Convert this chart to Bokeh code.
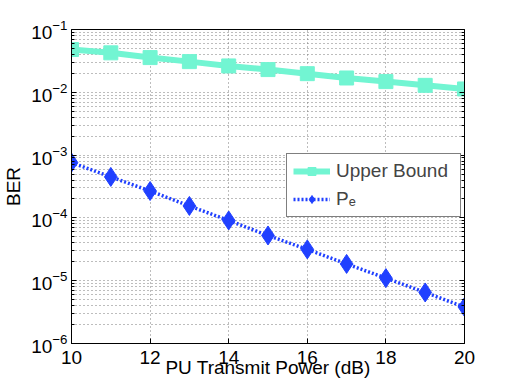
from bokeh.plotting import figure
from bokeh.models import (LogAxis, Legend, LegendItem, FixedTicker, Range1d)
from bokeh.embed import file_html
from bokeh.resources import INLINE

# ---- data ----
power_db = [10, 11, 12, 13, 14, 15, 16, 17, 18, 19, 20]
upper_bound = [0.048, 0.0425, 0.0357, 0.0308, 0.0263, 0.0230, 0.0198,
               0.0169, 0.0148, 0.0129, 0.0113]
pe = [7.6e-4, 4.5e-4, 2.68e-4, 1.55e-4, 9.1e-5, 5.25e-5, 3.15e-5,
      1.85e-5, 1.1e-5, 6.5e-6, 3.8e-6]
x_ticks = [10, 12, 14, 16, 18, 20]
y_ticks = [1e-6, 1e-5, 1e-4, 1e-3, 1e-2, 1e-1]
series_labels = ["Upper Bound", "P\u2091"]
x_label = "PU Transmit Power (dB)"
y_label = "BER"

FONT = "Liberation Sans"
minor_y = [m * d for d in y_ticks[:-1] for m in range(2, 10)]

p = figure(width=512, height=385, y_axis_type="log",
           x_range=Range1d(10, 20), y_range=Range1d(1e-6, 1e-1),
           output_backend="svg", toolbar_location=None,
           min_border_left=68, min_border_right=48,
           min_border_top=29, min_border_bottom=42)

p.border_fill_color = "white"
p.outline_line_color = "black"
p.outline_line_width = 1
p.background_fill_color = "white"

# grid
p.xgrid.ticker = FixedTicker(ticks=x_ticks)
p.ygrid.ticker = FixedTicker(ticks=y_ticks, minor_ticks=minor_y)
for g in (p.xgrid, p.ygrid):
    g.grid_line_color = "#7a7a7a"
    g.grid_line_dash = "1 3"
    g.grid_line_width = 1
p.ygrid.minor_grid_line_color = "#7a7a7a"
p.ygrid.minor_grid_line_dash = "1 3"

# axes
xa = p.xaxis[0]
xa.ticker = FixedTicker(ticks=x_ticks, minor_ticks=[])
ya = p.yaxis[0]
ya.ticker = FixedTicker(ticks=y_ticks, minor_ticks=minor_y)
for ax in (xa, ya):
    ax.axis_line_color = "black"
    ax.major_tick_in = 5
    ax.major_tick_out = 0
    ax.minor_tick_in = 3
    ax.minor_tick_out = 0
    ax.major_label_text_font = FONT
    ax.major_label_text_font_size = "19px"
    ax.major_label_text_color = "black"
    ax.axis_label_text_font = FONT
    ax.axis_label_text_font_size = "19px"
    ax.axis_label_text_font_style = "normal"
    ax.axis_label_text_color = "black"
xa.axis_label = x_label
ya.axis_label = y_label
xa.major_label_standoff = 7
xa.axis_label_standoff = -10
ya.major_label_standoff = 4
ya.axis_label_standoff = 4

# right axis for box ticks (labels hidden)
ra = LogAxis(ticker=FixedTicker(ticks=y_ticks, minor_ticks=minor_y),
             major_label_text_font_size="1px", major_label_text_color=None,
             major_tick_in=5, major_tick_out=0,
             minor_tick_in=3, minor_tick_out=0, axis_line_color="black",
             major_label_standoff=0)
p.add_layout(ra, "right")

# series
r1 = p.line(power_db, upper_bound, line_color="#72f5d2", line_width=6)
r1m = p.scatter(power_db, upper_bound, marker="square", size=14,
                fill_color="#72f5d2", line_color="#72f5d2")
r2 = p.line(power_db, pe, line_color="#2040ff", line_width=3.5, line_dash="2 2")
r2m = p.scatter(power_db, pe, marker="diamond", size=19,
                fill_color="#2040ff", line_color="#2040ff")

legend = Legend(items=[LegendItem(label=series_labels[0], renderers=[r1, r1m]),
                       LegendItem(label=series_labels[1], renderers=[r2, r2m])],
                location=(215, 126), orientation="vertical",
                label_text_font=FONT, label_text_font_size="19px",
                glyph_width=37, glyph_height=20, label_height=20,
                label_width=118,
                label_standoff=6, padding=6, spacing=6, margin=0,
                border_line_color="black", border_line_width=1,
                background_fill_color="white", background_fill_alpha=1)
p.add_layout(legend, "center")

open("out.html", "w").write(file_html(p, INLINE))
